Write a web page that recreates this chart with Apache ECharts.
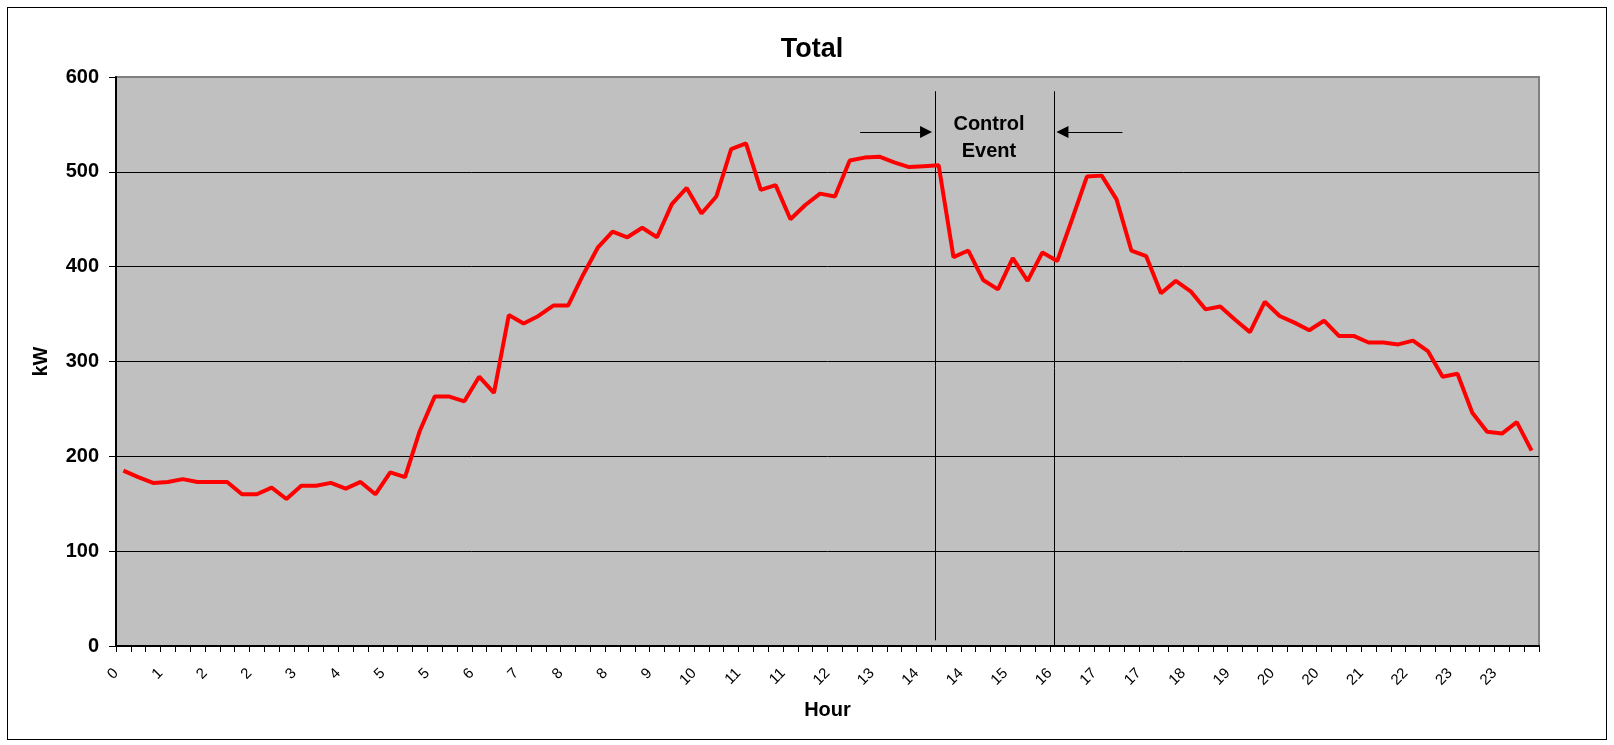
<!DOCTYPE html>
<html>
<head>
<meta charset="utf-8">
<script src="https://cdn.jsdelivr.net/npm/echarts@6/dist/echarts.min.js"></script>
<style>
  html, body { margin: 0; padding: 0; background: #fff; }
  #chart { position: absolute; left: 0; top: 0; width: 1614px; height: 745px; }
  #frame { position: absolute; left: 7px; top: 7px; width: 1598px; height: 731px;
    border: 1px solid #000; pointer-events: none; }
</style>
</head>
<body>
<div id="chart"></div>
<div id="frame"></div>
<script>
// x axis tick labels, one every 3 quarter-hours (as Excel rounded them)
const hourLabels = ['0', '1', '2', '2', '3', '4', '5', '5', '6', '7', '8', '8', '9', '10', '11', '11',
  '12', '13', '14', '14', '15', '16', '17', '17', '18', '19', '20', '20', '21', '22', '23', '23']

// total load, kW, one value per 15 minutes
const totalKw = [
  185, 178, 172, 173, 176, 173, 173, 173, 160, 160, 167, 155,
  169, 169, 172, 166, 173, 160, 183, 178, 227, 263, 263, 258,
  284, 267, 349, 340, 348, 359, 359, 391, 420, 437, 431, 441,
  431, 466, 483, 456, 474, 524, 530, 481, 486, 450, 465, 477,
  474, 512, 515, 516, 510, 505, 506, 507, 410, 417, 386, 376,
  409, 385, 415, 406, 450, 495, 496, 471, 417, 411, 372, 385,
  374, 355, 358, 344, 331, 363, 348, 341, 333, 343, 327, 327,
  320, 320, 318, 322, 311, 284, 287, 246, 226, 224, 236, 206
]

// control event window, in quarter-hour slots
const eventStart = 55.25
const eventEnd = 63.3

const slots = totalKw.map((v, i) => String(i))

const chart = echarts.init(document.getElementById('chart'))

const font = 'Liberation Sans, Arial, sans-serif'

const option = {
  animation: false,
  title: {
    text: 'Total', left: 807, top: 31, textAlign: 'center',
    textStyle: {fontFamily: font, fontSize: 27, fontWeight: 'bold', color: '#000'}
  },
  grid: {
    left: 116, top: 77, width: 1423, height: 569,
    show: true, backgroundColor: '#C0C0C0', borderColor: '#808080', borderWidth: 2
  },
  xAxis: [
    {type: 'category', data: slots, boundaryGap: true, show: false},
    {
      type: 'value', min: 0, max: 96, interval: 3, position: 'bottom',
      name: 'Hour', nameLocation: 'middle', nameGap: 54,
      nameTextStyle: {fontFamily: font, fontSize: 20, fontWeight: 'bold', color: '#000'},
      axisLine: {show: true, lineStyle: {color: '#000', width: 2}},
      axisTick: {show: true, length: 6, lineStyle: {color: '#000', width: 1}},
      minorTick: {show: true, splitNumber: 3, length: 6, lineStyle: {color: '#000', width: 1}},
      splitLine: {show: false},
      axisLabel: {
        rotate: 45, margin: 25, fontFamily: font, fontSize: 15, color: '#000',
        formatter: v => hourLabels[v / 3] || ''
      }
    }
  ],
  yAxis: {
    type: 'value', min: 0, max: 600, interval: 100,
    name: 'kW', nameLocation: 'middle', nameRotate: 90, nameGap: 65,
    nameTextStyle: {fontFamily: font, fontSize: 20, fontWeight: 'bold', color: '#000'},
    axisLine: {show: true, lineStyle: {color: '#000', width: 2}},
    axisTick: {show: true, length: 7, lineStyle: {color: '#000'}},
    splitLine: {show: true, lineStyle: {color: ['#000', '#000', '#000', '#000', '#000', '#000', '#808080'], width: 1}},
    axisLabel: {margin: 17, fontFamily: font, fontSize: 20, fontWeight: 'bold', color: '#000'}
  },
  graphic: [
    {
      type: 'text', z: 100,
      style: {
        text: 'Control\nEvent', x: 989, y: 138, align: 'center', verticalAlign: 'middle',
        textAlign: 'center', textVerticalAlign: 'middle', lineHeight: 27,
        font: 'bold 20px ' + font, fill: '#000'
      }
    }
  ],
  series: [
    {
      name: 'Total', type: 'line', xAxisIndex: 0, data: totalKw,
      symbol: 'none', lineStyle: {color: '#FF0000', width: 4}, z: 5
    },
    {
      name: 'event', type: 'line', xAxisIndex: 1, data: [], z: 4,
      markLine: {
        silent: true, symbol: 'none', label: {show: false},
        lineStyle: {color: '#000', width: 1, type: 'solid'},
        data: [
          [{coord: [eventStart, 585]}, {coord: [eventStart, 6]}],
          [{coord: [eventEnd, 585]}, {coord: [eventEnd, 0]}],
          [{coord: [50.2, 542], symbol: 'none'}, {coord: [eventStart - 0.6, 542], symbol: 'triangle', symbolSize: 12}],
          [{coord: [67.9, 542], symbol: 'none'}, {coord: [eventEnd + 0.55, 542], symbol: 'triangle', symbolSize: 12}]
        ]
      }
    }
  ]
}

chart.setOption(option)
</script>
</body>
</html>
